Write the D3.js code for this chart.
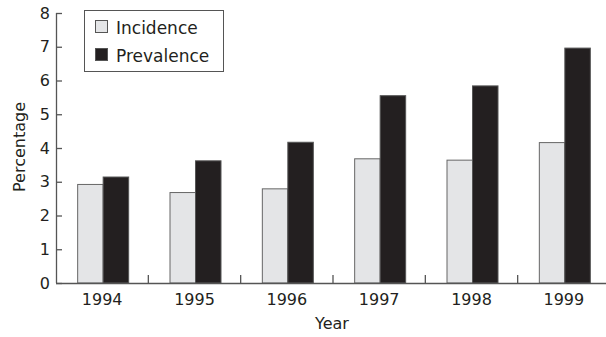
<!DOCTYPE html>
<html><head><meta charset="utf-8">
<script src="https://cdn.jsdelivr.net/npm/d3@7"></script>
<style>body{margin:0;background:#fff}text{font-family:"DejaVu Sans",sans-serif;fill:#231f20}</style>
</head><body><svg id="c" width="606" height="337"></svg>
<script>
const years = ["1994","1995","1996","1997","1998","1999"];
const incidence = [2.92, 2.68, 2.79, 3.68, 3.64, 4.16];
const prevalence = [3.14, 3.62, 4.17, 5.55, 5.84, 6.96];
const yTicks = [0,1,2,3,4,5,6,7,8];
const seriesNames = ["Incidence","Prevalence"];
const colors = ["#e4e5e7","#231f20"];

const svg = d3.select("#c");
const x = d3.scaleBand().domain(years).range([56, 610]);
const x1 = d3.scaleBand().domain(seriesNames).range([0, 51]);
const y = d3.scaleLinear().domain([0, 8]).range([283, 13]);
const axisCol = "#555";

// bars
const data = years.map((yr,i)=>({yr, vals:[incidence[i], prevalence[i]]}));
const g = svg.append("g");
data.forEach(d=>{
  d.vals.forEach((v,j)=>{
    const bx = x(d.yr) + x.bandwidth()/2 - 24.5 + x1(seriesNames[j]);
    g.append("rect").attr("x", bx).attr("y", y(v))
      .attr("width", x1.bandwidth()).attr("height", y(0)-y(v))
      .attr("fill", colors[j]).attr("stroke", j===0?"#666":"#555").attr("stroke-width",1);
  });
});

// y axis
const ya = svg.append("g").attr("transform","translate(56,0)")
  .call(d3.axisRight(y).tickValues(yTicks).tickSize(6).tickFormat(d3.format("d")));
ya.select(".domain").attr("d", `M0.5,${y(8)}V${y(0)}`).attr("stroke",axisCol).attr("stroke-width",1.3);
ya.selectAll(".tick line").attr("stroke",axisCol).attr("stroke-width",1.3);
ya.selectAll(".tick text").attr("x",-6).attr("text-anchor","end").attr("font-size",16).attr("fill","#231f20");

// x axis
const xa = svg.append("g").attr("transform",`translate(0,${y(0)})`)
  .call(d3.axisBottom(x).tickSize(0).tickPadding(11));
xa.select(".domain").attr("d","M56,0.5H606").attr("stroke",axisCol).attr("stroke-width",1.3);
xa.selectAll(".tick text").attr("font-size",16).attr("fill","#231f20");
// separators between categories
svg.append("g").selectAll("line").data(years.slice(1)).join("line")
  .attr("x1",d=>x(d)).attr("x2",d=>x(d)).attr("y1",y(0)).attr("y2",y(0)-8)
  .attr("stroke",axisCol).attr("stroke-width",1.3);

// axis titles
svg.append("text").attr("x",332).attr("y",329).attr("text-anchor","middle").attr("font-size",16).text("Year");
svg.append("text").attr("transform","translate(25,147) rotate(-90)").attr("text-anchor","middle").attr("font-size",16).text("Percentage");

// legend
const lg = svg.append("g");
lg.append("rect").attr("x",84.5).attr("y",10.5).attr("width",139).attr("height",61).attr("fill","#fff").attr("stroke","#555").attr("stroke-width",1);
seriesNames.forEach((n,i)=>{
  lg.append("rect").attr("x",95.5).attr("y",20.5+i*28).attr("width",12).attr("height",12)
    .attr("fill",colors[i]).attr("stroke","#555");
  lg.append("text").attr("x",116).attr("y",33.5+i*28).attr("font-size",17).text(n);
});
</script></body></html>
